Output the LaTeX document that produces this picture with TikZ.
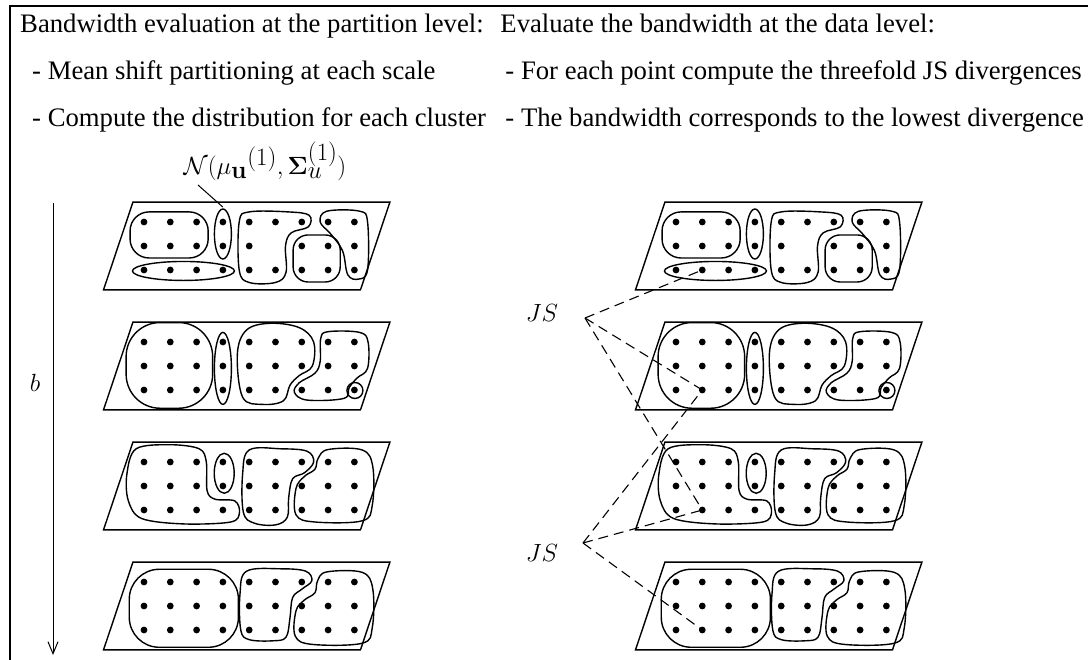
\documentclass[tikz,border=0pt]{standalone}
\usepackage[no-math]{fontspec}
\setmainfont{Liberation Serif}
\usetikzlibrary{arrows.meta}
\begin{document}
\begin{tikzpicture}[x=1pt,y=-1pt,
  panel/.style={line width=1.4pt, line join=miter},
  clus/.style={line width=1.4pt},
  txt/.style={font=\fontsize{26.7}{32}\selectfont, inner sep=0pt},
  mth/.style={font=\fontsize{31}{36}\selectfont, inner sep=0pt},
  bigmth/.style={font=\fontsize{36}{42}\selectfont, inner sep=0pt},
  jsline/.style={line width=1.1pt, dash pattern=on 10pt off 6pt},
  frameline/.style={line width=2pt},
  dotf/.style={fill=black}]
\useasboundingbox (0,0) rectangle (1088,660);
% frame
\coordinate (f1) at (10,660);
\coordinate (f2) at (10,6);
\coordinate (f3) at (1088,6);
\draw[frameline] (f1) -- (f2) -- (f3);
% texts
\node[txt, anchor=base west] (h1) at (20,33) {Bandwidth evaluation at the partition level:};
\node[txt, anchor=base west] (l1) at (32,80) {- Mean shift partitioning at each scale};
\node[txt, anchor=base west] (l2) at (32,127) {- Compute the distribution for each cluster};
\node[txt, anchor=base east] (r1) at (1082,80) {- For each point compute the threefold JS divergences};
\node[txt, anchor=base west] (r2) at (r1.base west |- 0,127) {- The bandwidth corresponds to the lowest divergence};
\node[txt, anchor=base west] (h2) at ([xshift=-5pt]r1.base west |- 0,33) {Evaluate the bandwidth at the data level:};
% panels
\foreach \sx/\side in {0/L,532/R}{
  % panel 1
  \begin{scope}[shift={(117.7+\sx,198)}, x=26.3pt, y=-24pt]
    \draw[panel] (0.58,0.17) -- (10.35,0.17) -- (9.23,3.83) -- (-0.54,3.83) -- cycle;
    \foreach \c in {1,...,9}{\foreach \r in {1,2,3}{\ifnum\c\r=62 \else \fill[dotf] (\c,\r) circle[radius=3.4pt];\fi}}
    \coordinate (d\side1) at (2,3);
    \coordinate (et\side) at (4,0.38);
    \draw[clus, rounded corners=19pt] (0.47,0.58) rectangle (3.44,2.5);
    \draw[clus] (4,1.5) ellipse[x radius=8.5pt, y radius=25pt];
    \draw[clus] (2.5,3.04) ellipse[x radius=51pt, y radius=9.5pt];
    \draw[clus] plot[smooth cycle, tension=0.6] coordinates {(4.62,1.0) (5.0,0.58) (6.5,0.58) (7.28,0.72) (7.25,1.2) (6.6,1.45) (6.38,2.0) (6.4,3.1) (6.0,3.52) (5.0,3.52) (4.62,3.0)};
    \draw[clus, rounded corners=15pt] (6.67,1.54) rectangle (8.46,3.5);
    \draw[clus] plot[smooth cycle, tension=0.6] coordinates {(7.7,1.0) (7.95,0.55) (9.2,0.55) (9.5,1.0) (9.5,3.0) (9.15,3.38) (8.75,3.2) (8.55,2.2) (8.1,1.5)};
  \end{scope}
  % panel 2
  \begin{scope}[shift={(117.7+\sx,318)}, x=26.3pt, y=-24pt]
    \draw[panel] (0.58,0.17) -- (10.35,0.17) -- (9.23,3.83) -- (-0.54,3.83) -- cycle;
    \foreach \c in {1,...,9}{\foreach \r in {1,2,3}{\fill[dotf] (\c,\r) circle[radius=3.4pt];}}
    \coordinate (d\side2) at (2,3);
    \draw[clus, rounded corners=34pt] (0.32,0.19) rectangle (3.61,3.76);
    \draw[clus] (4,2.1) ellipse[x radius=8.5pt, y radius=36pt];
    \draw[clus] plot[smooth cycle, tension=0.6] coordinates {(4.55,1.5) (4.9,0.5) (5.8,0.22) (6.9,0.4) (7.45,1.0) (7.4,2.0) (6.9,2.4) (6.55,2.8) (6.3,3.45) (5.5,3.6) (4.75,3.3)};
    \draw[clus] plot[smooth cycle, tension=0.6] coordinates {(7.72,0.85) (8.0,0.57) (9.2,0.6) (9.52,1.0) (9.5,2.1) (9.1,2.5) (8.8,2.9) (8.6,3.35) (7.2,3.42) (6.72,3.1) (6.9,2.7) (7.5,2.3) (7.7,1.8)};
    \draw[clus] (9.02,3.02) circle[radius=8pt];
  \end{scope}
  % panel 3
  \begin{scope}[shift={(117.7+\sx,438)}, x=26.3pt, y=-24pt]
    \draw[panel] (0.58,0.17) -- (10.35,0.17) -- (9.23,3.83) -- (-0.54,3.83) -- cycle;
    \foreach \c in {1,...,9}{\foreach \r in {1,2,3}{\fill[dotf] (\c,\r) circle[radius=3.4pt];}}
    \coordinate (d\side3) at (2,3);
    \draw[clus] plot[smooth cycle, tension=0.55] coordinates {(0.35,1.5) (0.7,0.45) (2.0,0.28) (3.1,0.45) (3.37,1.0) (3.4,2.2) (3.7,2.55) (4.45,2.62) (4.63,3.1) (4.3,3.5) (2.5,3.58) (0.9,3.35) (0.4,2.6)};
    \draw[clus] (4.05,1.47) ellipse[x radius=10pt, y radius=20pt];
    \draw[clus] plot[smooth cycle, tension=0.6] coordinates {(4.75,1.5) (5.0,0.5) (6.2,0.45) (7.2,0.55) (7.45,1.0) (7.1,1.45) (6.65,1.7) (6.5,2.5) (6.45,3.3) (6.0,3.62) (5.2,3.55) (4.78,3.1)};
    \draw[clus] plot[smooth cycle, tension=0.6] coordinates {(7.62,0.85) (8.0,0.48) (9.3,0.5) (9.7,1.2) (9.68,2.8) (9.3,3.45) (7.5,3.5) (6.78,3.2) (6.78,2.1) (7.1,1.6) (7.5,1.3)};
  \end{scope}
  % panel 4
  \begin{scope}[shift={(117.7+\sx,558)}, x=26.3pt, y=-24pt]
    \draw[panel] (0.58,0.17) -- (10.35,0.17) -- (9.23,3.83) -- (-0.54,3.83) -- cycle;
    \foreach \c in {1,...,9}{\foreach \r in {1,2,3}{\fill[dotf] (\c,\r) circle[radius=3.4pt];}}
    \coordinate (d\side4) at (2,3);
    \draw[clus, rounded corners=30pt] (0.44,0.47) rectangle (4.59,3.72);
    \draw[clus] plot[smooth cycle, tension=0.6] coordinates {(4.65,1.5) (4.9,0.55) (6.2,0.45) (7.15,0.55) (7.38,0.95) (7.0,1.3) (6.65,1.65) (6.55,2.5) (6.4,3.3) (5.9,3.45) (5.0,3.4) (4.68,3.0)};
    \draw[clus] plot[smooth cycle, tension=0.6] coordinates {(7.6,0.95) (7.95,0.58) (9.3,0.6) (9.7,1.3) (9.68,2.9) (9.3,3.55) (7.4,3.6) (6.75,3.25) (6.78,2.2) (7.1,1.75) (7.5,1.45)};
  \end{scope}
}
% formula label and leader
\node[bigmth, anchor=base] (nlab) at (265,175) {$\mathcal{N}({\mu_{\mathbf{u}}}^{(1)}, \mathbf{\Sigma}_u^{(1)})$};
\coordinate (ls) at (198,185);
\draw[line width=1pt] (ls) -- (etL);
% arrow and b
\coordinate (at) at (53,203);
\coordinate (ab) at (53,655);
\draw[line width=1pt, -{Straight Barb[length=12pt,width=10pt]}] (at) -- (ab);
\node[mth] (b) at (35,383) {$b$};
% JS labels and dashed lines
\node[mth] (js1) at (542,313) {$JS$};
\node[mth] (js2) at (542,553) {$JS$};
\coordinate (j1) at (585,318);
\coordinate (j2) at (583,543);
\foreach \k in {1,2,3} \draw[jsline] (j1) -- (dR\k);
\foreach \k in {2,3,4} \draw[jsline] (j2) -- (dR\k);
\end{tikzpicture}
\end{document}
